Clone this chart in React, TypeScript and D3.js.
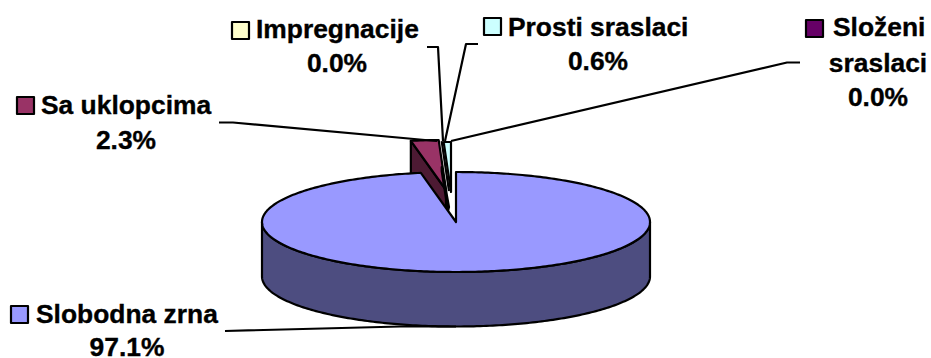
import React from "react";
import * as D3 from "d3";

const categories = ["Slobodna zrna", "Sa uklopcima", "Impregnacije", "Prosti sraslaci", "Složeni sraslaci"];
const values = [97.1, 2.3, 0.0, 0.6, 0.0];
const topColors = ["#9999FF", "#993366", "#FFFFCC", "#CCFFFF", "#660066"];
const sideColors = ["#4D4D80", "#4D1A33", "#808066", "#668080", "#330033"];

const W = 931, H = 358;
const rx = 194, ry = 50, depth = 54.5;
// where each slice's tip sits once it has been pulled out of the pie
const tips: [number, number][] = [[456, 222], [446, 190], [449, 191], [451, 192], [451, 192]];

const pct = D3.format(".1%");
const pie = D3.pie<number>().sort(null).value((d) => d)(values);
const xS = D3.scaleLinear().domain([-1, 1]).range([-rx, rx]);
const yS = D3.scaleLinear().domain([-1, 1]).range([-ry, ry]);
const pt = (t: [number, number], a: number, dz = 0): [number, number] => [
  t[0] + xS(Math.sin(a)),
  t[1] - yS(Math.cos(a)) + dz,
];
const line = D3.line();
const arcPts = (t: [number, number], a0: number, a1: number, dz = 0) => {
  const n = Math.max(2, Math.ceil(Math.abs(a1 - a0) * 60));
  return D3.range(n + 1).map((i) => pt(t, a0 + ((a1 - a0) * i) / n, dz));
};
const top = (i: number) => {
  const t = tips[i];
  return line([t, ...arcPts(t, pie[i].startAngle, pie[i].endAngle)]) + "Z";
};
const cut = (i: number, a: number) => {
  const t = tips[i];
  const p = pt(t, a);
  return line([p, t, [t[0], t[1] + depth], [p[0], p[1] + depth]]) + "Z";
};
const rim = (() => {
  const t = tips[0];
  const a = arcPts(t, Math.PI / 2, (Math.PI * 3) / 2);
  const b = arcPts(t, (Math.PI * 3) / 2, Math.PI / 2, depth);
  return line([...a, ...b]) + "Z";
})();

const leaders: [number, number][][] = [
  [[225, 331], [400, 326.5], [456, 326.5]],
  [[219, 122.5], [233, 122.5], [425, 140], [437, 141]],
  [[427, 47], [438, 47], [443, 141]],
  [[478, 44], [466, 44], [445, 141]],
  [[800, 62.5], [787, 62.5], [451, 141]],
];
const swatches: [number, number][] = [[11, 306], [17, 97], [232, 22], [484, 18], [806, 20]];
const labelLines = [
  [{ t: categories[0], x: 36, y: 323, a: "start" }, { t: pct(values[0] / 100), x: 127, y: 356, a: "middle" }],
  [{ t: categories[1], x: 41, y: 114, a: "start" }, { t: pct(values[1] / 100), x: 126, y: 149, a: "middle" }],
  [{ t: categories[2], x: 256, y: 38, a: "start" }, { t: pct(values[2] / 100), x: 337, y: 72, a: "middle" }],
  [{ t: categories[3], x: 508, y: 36, a: "start" }, { t: pct(values[3] / 100), x: 598, y: 70, a: "middle" }],
  [{ t: "Složeni", x: 833, y: 36, a: "start" }, { t: "sraslaci", x: 878, y: 72, a: "middle" }, { t: pct(values[4] / 100), x: 878, y: 106, a: "middle" }],
];

export default function App() {
  const stroke = { stroke: "#000", strokeWidth: 2.2, strokeLinejoin: "round" as const };
  return (
    <svg width={W} height={H} style={{ position: "absolute", left: 0, top: 0, background: "#fff" }}>
      <path d={top(3)} fill={topColors[3]} {...stroke} />
      <path d={cut(1, pie[1].startAngle)} fill={sideColors[1]} {...stroke} />
      <path d={top(1)} fill={topColors[1]} {...stroke} />
      <path d={line([pt(tips[2], pie[2].startAngle, 26), [tips[2][0], tips[2][1] + 16], [tips[2][0] - 1, tips[2][1] + 20], pt(tips[2], pie[2].startAngle, 30)]) + "Z"} fill={sideColors[2]} {...stroke} />
      <path d={line([pt(tips[2], pie[2].startAngle), tips[2]]) as string} fill="none" {...stroke} />
      <path d={rim} fill={sideColors[0]} {...stroke} />
      <path d={top(0)} fill={topColors[0]} {...stroke} />
      {leaders.map((l, i) => (
        <path key={i} d={line(l) as string} fill="none" {...stroke} />
      ))}
      {swatches.map((s, i) => (
        <rect key={i} x={s[0]} y={s[1]} width={17} height={17} fill={topColors[i]} {...stroke} />
      ))}
      {labelLines.flat().map((l, i) => (
        <text key={i} x={l.x} y={l.y} textAnchor={l.a as any} fontFamily="'Liberation Sans', Arial, sans-serif" fontWeight="bold" fontSize={26.4} fill="#000" stroke="#000" strokeWidth={0.35}>
          {l.t}
        </text>
      ))}
    </svg>
  );
}
